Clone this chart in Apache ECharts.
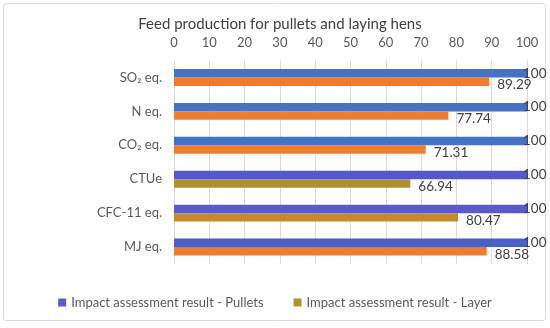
<!DOCTYPE html>
<html><head><meta charset="utf-8">
<script src="https://cdn.jsdelivr.net/npm/echarts@6/dist/echarts.min.js"></script>
<style>html,body{margin:0;padding:0;background:#fff}#c{width:550px;height:328px}</style>
</head><body><div id="c"></div>
<script>
const categories = ["SO₂ eq.", "N eq.", "CO₂ eq.", "CTUe", "CFC-11 eq.", "MJ eq."];
const pullets = [100, 100, 100, 100, 100, 100];
const layer = [89.29, 77.74, 71.31, 66.94, 80.47, 88.58];
const pulletColors = ["#4472C4", "#4472C4", "#4472C4", "#5558C8", "#5B5BC8", "#4A60C9"];
const layerColors = ["#ED7D31", "#ED7D31", "#ED7D31", "#B08F2E", "#C5892C", "#E97E30"];
const xTicks = [0, 10, 20, 30, 40, 50, 60, 70, 80, 90, 100];

const chart = echarts.init(document.getElementById('c'));
const font = "Lato, 'Open Sans', sans-serif";
chart.setOption({
  animation: false,
  textStyle: {fontFamily: font},
  graphic: [{type: 'rect', shape: {x: 3.5, y: 3.5, width: 542, height: 317, r: 3},
    style: {fill: 'none', stroke: '#d9d9d9', lineWidth: 1}, silent: true}],
  title: {text: 'Feed production for pullets and laying hens', left: 275, textAlign: 'center', top: 12,
    textStyle: {fontSize: 15, fontWeight: 'normal', color: '#404040', fontFamily: font}},
  legend: {bottom: 14, left: 'center', itemWidth: 8, itemHeight: 8, itemGap: 30, icon: 'rect',
    textStyle: {fontSize: 13, color: '#595959', fontFamily: font},
    data: [{name: 'Impact assessment result - Pullets', itemStyle: {color: '#5B5BC8'}},
           {name: 'Impact assessment result - Layer', itemStyle: {color: '#A8962E'}}]},
  grid: {left: 174, right: 23, top: 60.5, height: 203.5, containLabel: false},
  xAxis: {type: 'value', position: 'top', min: 0, max: 100, interval: 10,
    axisLine: {show: false}, axisTick: {show: false},
    axisLabel: {color: '#595959', fontSize: 13, margin: 11, fontFamily: font},
    splitLine: {lineStyle: {color: '#d9d9d9'}}},
  yAxis: {type: 'category', data: categories, inverse: true,
    axisLine: {show: false}, axisTick: {show: false},
    axisLabel: {color: '#595959', fontSize: 13, margin: 12, fontFamily: font}},
  series: [
    {name: 'Impact assessment result - Pullets', type: 'bar', barGap: '0%', barCategoryGap: '50%',
     color: '#5B5BC8',
     data: pullets.map((v, i) => ({value: v, itemStyle: {color: pulletColors[i]}})),
     label: {show: true, position: 'right', distance: -4, color: '#404040', fontSize: 13.5, fontFamily: font}},
    {name: 'Impact assessment result - Layer', type: 'bar',
     color: '#A8962E',
     data: layer.map((v, i) => ({value: v, itemStyle: {color: layerColors[i]}})),
     label: {show: true, position: 'right', distance: 8, offset: [0, 3], color: '#404040', fontSize: 13.5, fontFamily: font}}
  ]
});
</script></body></html>
